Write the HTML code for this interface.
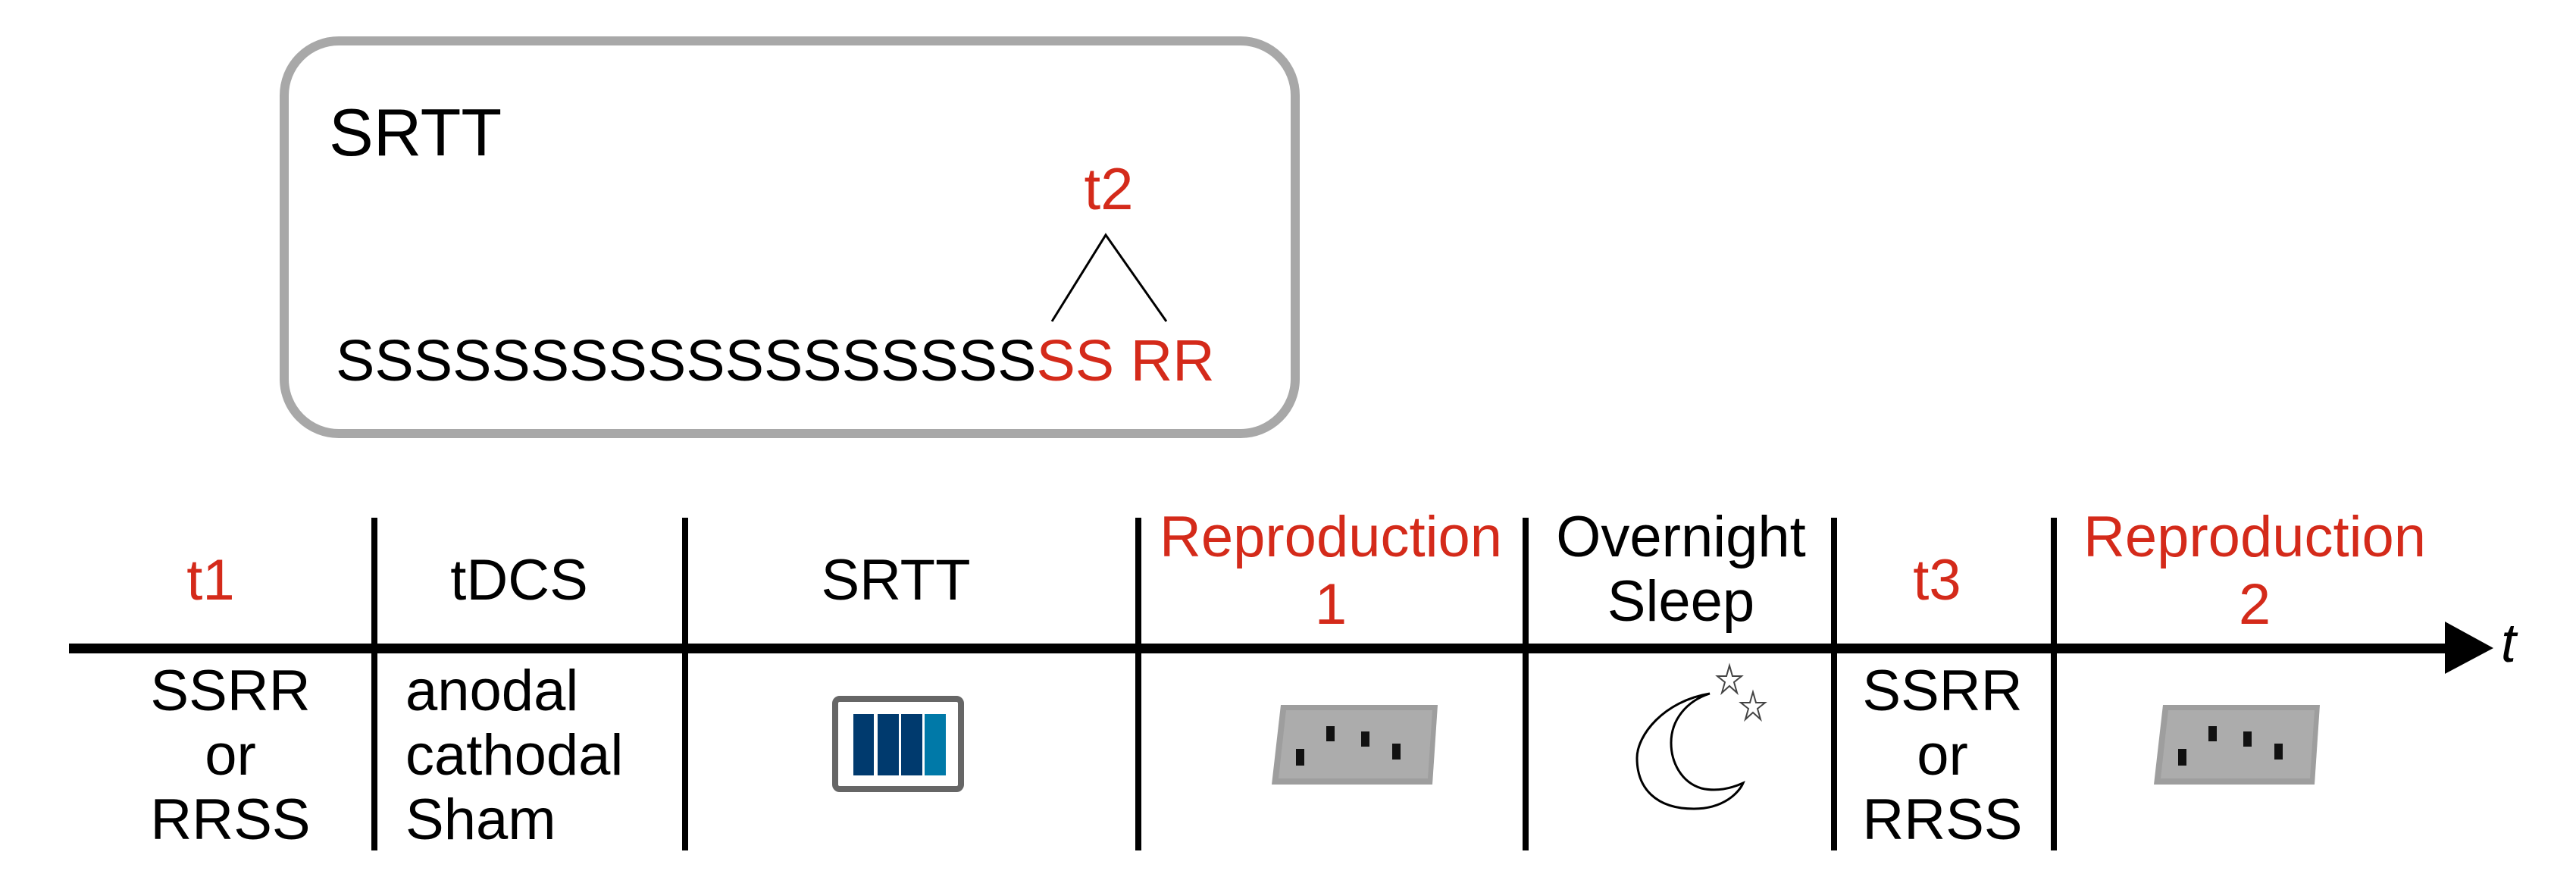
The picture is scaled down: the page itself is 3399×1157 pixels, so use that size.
<!DOCTYPE html>
<html><head><meta charset="utf-8"><style>
html,body{margin:0;padding:0;background:#fff}
svg{display:block}
text{font-family:"Liberation Sans",Arial,sans-serif}
</style></head><body>
<svg width="3399" height="1157" viewBox="0 0 3399 1157" xmlns="http://www.w3.org/2000/svg">
<rect x="375" y="54" width="1334" height="518" rx="72" fill="#fff" stroke="#a8a8a8" stroke-width="12"/>
<text x="434" y="205" font-size="88">SRTT</text>
<text x="1463" y="276" font-size="78" fill="#d42a1a" text-anchor="middle">t2</text>
<polyline points="1388,424 1459,310 1539,424" fill="none" stroke="#000" stroke-width="3"/>
<text x="443" y="502" font-size="77"><tspan>SSSSSSSSSSSSSSSSSS</tspan><tspan fill="#d42a1a">SS RR</tspan></text>

<rect x="91" y="849" width="3140" height="13" fill="#000"/>
<polygon points="3226,820 3290,855 3226,889" fill="#000"/>
<text x="3300" y="873" font-size="72" font-style="italic">t</text>

<g stroke="#000" stroke-width="8">
<line x1="494" y1="683" x2="494" y2="1122"/>
<line x1="904" y1="683" x2="904" y2="1122"/>
<line x1="1502" y1="683" x2="1502" y2="1122"/>
<line x1="2013" y1="683" x2="2013" y2="1122"/>
<line x1="2420" y1="683" x2="2420" y2="1122"/>
<line x1="2710" y1="683" x2="2710" y2="1122"/>
</g>

<g font-size="76" text-anchor="middle">
<text x="278" y="791" fill="#d42a1a">t1</text>
<text x="685" y="791">tDCS</text>
<text x="1182" y="791">SRTT</text>
<text x="1756" y="734" fill="#d42a1a">Reproduction</text>
<text x="1756" y="823" fill="#d42a1a">1</text>
<text x="2218" y="734">Overnight</text>
<text x="2218" y="819">Sleep</text>
<text x="2556" y="791" fill="#d42a1a">t3</text>
<text x="2975" y="734" fill="#d42a1a">Reproduction</text>
<text x="2975" y="823" fill="#d42a1a">2</text>
<text x="304" y="937">SSRR</text>
<text x="304" y="1022">or</text>
<text x="304" y="1107">RRSS</text>
<text x="2563" y="937">SSRR</text>
<text x="2563" y="1022">or</text>
<text x="2563" y="1107">RRSS</text>
</g>
<g font-size="76">
<text x="535" y="937">anodal</text>
<text x="535" y="1022">cathodal</text>
<text x="535" y="1107">Sham</text>
</g>

<rect x="1102" y="922" width="166" height="119" rx="6" fill="#fff" stroke="#666" stroke-width="8"/>
<rect x="1126" y="942" width="27" height="81" fill="#003a6e"/>
<rect x="1158" y="942" width="28" height="81" fill="#003a6e"/>
<rect x="1189" y="942" width="28" height="81" fill="#003a6e"/>
<rect x="1220" y="942" width="28" height="81" fill="#0079a8"/>

<g>
<polygon points="1690,930 1897,930 1890,1035 1678,1035" fill="#9e9e9e"/>
<polygon points="1697,937 1890,937 1884,1027 1687,1027" fill="#acacac"/>
<rect x="1710" y="988" width="11" height="22" fill="#111"/>
<rect x="1750" y="958" width="11" height="20" fill="#111"/>
<rect x="1796" y="965" width="11" height="20" fill="#111"/>
<rect x="1837" y="981" width="11" height="21" fill="#111"/>
</g>
<g transform="translate(1164,0)">
<polygon points="1690,930 1897,930 1890,1035 1678,1035" fill="#9e9e9e"/>
<polygon points="1697,937 1890,937 1884,1027 1687,1027" fill="#acacac"/>
<rect x="1710" y="988" width="11" height="22" fill="#111"/>
<rect x="1750" y="958" width="11" height="20" fill="#111"/>
<rect x="1796" y="965" width="11" height="20" fill="#111"/>
<rect x="1837" y="981" width="11" height="21" fill="#111"/>
</g>

<path d="M2256,915 C2195,925 2160,970 2160,1000 C2160,1040 2185,1067 2235,1067 C2275,1067 2295,1045 2300,1033 C2280,1042 2262,1044 2245,1040 C2218,1032 2205,1005 2205,980 C2205,950 2225,925 2256,915 Z" fill="#fff" stroke="#000" stroke-width="3"/>
<polygon points="2282,878 2286,892 2298,892 2288,900 2292,914 2282,905 2272,914 2276,900 2266,892 2278,892" fill="#fff" stroke="#444" stroke-width="2"/>
<polygon points="2313,913 2317,927 2329,927 2319,935 2323,949 2313,940 2303,949 2307,935 2297,927 2309,927" fill="#fff" stroke="#444" stroke-width="2"/>
</svg>
</body></html>
